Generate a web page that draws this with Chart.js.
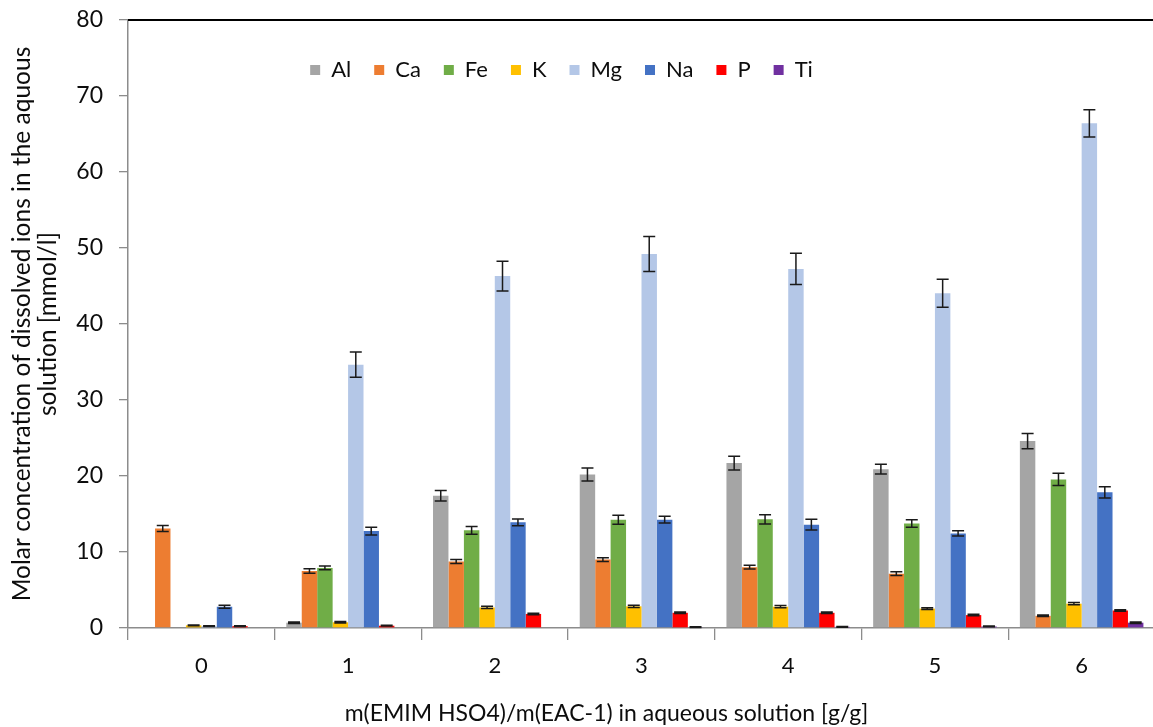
<!DOCTYPE html>
<html>
<head>
<meta charset="utf-8">
<title>Dissolved ions</title>
<script src="https://cdn.jsdelivr.net/npm/chart.js@4.4.1/dist/chart.umd.min.js"></script>
<style>
  html, body { margin: 0; padding: 0; background: #ffffff; overflow: hidden; }
  #wrap { width: 1160px; height: 727px; }
</style>
</head>
<body>
<div id="wrap"><canvas id="c" width="1160" height="727"></canvas></div>
<script>
// Mass ratio categories (x axis)
const ratios = ['0', '1', '2', '3', '4', '5', '6'];
const yTicks = [0, 10, 20, 30, 40, 50, 60, 70, 80];

// Mean molar concentrations [mmol/l] per element
const al = [0, 0.7, 17.4, 20.2, 21.7, 20.9, 24.6];
const ca = [13.1, 7.5, 8.75, 9.0, 8.0, 7.15, 1.6];
const fe = [0, 7.9, 12.85, 14.25, 14.3, 13.75, 19.55];
const k  = [0.35, 0.75, 2.7, 2.85, 2.8, 2.55, 3.2];
const mg = [0.25, 34.65, 46.3, 49.2, 47.25, 44.05, 66.4];
const na = [2.8, 12.75, 13.9, 14.25, 13.6, 12.45, 17.85];
const p  = [0.25, 0.3, 1.85, 2.0, 2.0, 1.7, 2.3];
const ti = [0, 0, 0, 0.1, 0.15, 0.2, 0.7];

// Standard deviations [mmol/l]
const alErr = [0, 0.1, 0.7, 0.85, 0.9, 0.65, 1.0];
const caErr = [0.4, 0.3, 0.25, 0.25, 0.25, 0.25, 0.1];
const feErr = [0, 0.25, 0.5, 0.6, 0.6, 0.5, 0.8];
const kErr  = [0.05, 0.1, 0.15, 0.15, 0.15, 0.1, 0.15];
const mgErr = [0.05, 1.65, 1.95, 2.3, 2.05, 1.85, 1.8];
const naErr = [0.2, 0.5, 0.45, 0.45, 0.7, 0.35, 0.75];
const pErr  = [0.05, 0.05, 0.1, 0.1, 0.1, 0.1, 0.1];
const tiErr = [0, 0, 0, 0.05, 0.05, 0.05, 0.1];

const FONT = 'Lato, "Open Sans", sans-serif';
const TEXT = '#0d0d0d';

function series(label, data, errors, color) {
  return {
    label, data, errors,
    backgroundColor: color,
    borderWidth: 0,
    categoryPercentage: 0.842,
    barPercentage: 1.0
  };
}

// Draws symmetric error bars with caps on every bar
const errorBars = {
  id: 'errorBars',
  afterDatasetsDraw(chart) {
    const ctx = chart.ctx;
    const yScale = chart.scales.y;
    ctx.save();
    ctx.strokeStyle = '#1a1a1a';
    ctx.lineWidth = 1.5;
    chart.data.datasets.forEach((ds, i) => {
      const meta = chart.getDatasetMeta(i);
      meta.data.forEach((bar, j) => {
        const err = ds.errors[j];
        if (!err) return;
        const v = ds.data[j];
        const yT = yScale.getPixelForValue(v + err);
        const yB = yScale.getPixelForValue(Math.max(0, v - err));
        const half = 6;
        ctx.beginPath();
        ctx.moveTo(bar.x, yT); ctx.lineTo(bar.x, yB);
        ctx.moveTo(bar.x - half, yT); ctx.lineTo(bar.x + half, yT);
        ctx.moveTo(bar.x - half, yB); ctx.lineTo(bar.x + half, yB);
        ctx.stroke();
      });
    });
    ctx.restore();
  }
};

// Upper frame line of the plot area
const topFrame = {
  id: 'topFrame',
  afterDraw(chart) {
    const { ctx, chartArea } = chart;
    ctx.save();
    ctx.strokeStyle = '#000000';
    ctx.lineWidth = 2;
    ctx.beginPath();
    ctx.moveTo(chartArea.left, chartArea.top);
    ctx.lineTo(chart.width, chartArea.top);
    ctx.stroke();
    ctx.restore();
  }
};

// Lays the legend out as a single horizontal row inside the plot area
// and centres the x-axis title a little left of the plot centre
const layoutTweaks = {
  id: 'layoutTweaks',
  beforeLayout(chart) {
    if (chart.legend) chart.legend.isHorizontal = () => true;
  },
  afterLayout(chart) {
    const lg = chart.legend;
    const area = chart.chartArea;
    if (lg) {
      lg.left = area.left;
      lg.right = area.right - 160;
      lg.top = area.top + 16;
      lg.bottom = lg.top + lg.height;
    }
    const xs = chart.scales.x;
    if (xs && !xs._titleShifted) {
      const draw = xs.drawTitle;
      xs.drawTitle = function () {
        const r = this.right;
        this.right = r - 70;
        draw.call(this);
        this.right = r;
      };
      xs._titleShifted = true;
    }
  }
};

new Chart(document.getElementById('c'), {
  type: 'bar',
  data: {
    labels: ratios,
    datasets: [
      series('Al', al, alErr, '#A5A5A5'),
      series('Ca', ca, caErr, '#ED7D31'),
      series('Fe', fe, feErr, '#70AD47'),
      series('K',  k,  kErr,  '#FFC000'),
      series('Mg', mg, mgErr, '#B4C7E7'),
      series('Na', na, naErr, '#4472C4'),
      series('P',  p,  pErr,  '#FF0000'),
      series('Ti', ti, tiErr, '#7030A0')
    ]
  },
  options: {
    responsive: false,
    animation: false,
    layout: { padding: { top: 20, right: 5, left: 0, bottom: 0 } },
    plugins: {
      tooltip: { enabled: false },
      legend: {
        position: 'chartArea',
        align: 'center',
        labels: {
          boxWidth: 10,
          boxHeight: 10,
          padding: 23,
          color: TEXT,
          font: { family: FONT, size: 22 }
        }
      }
    },
    scales: {
      x: {
        grid: { offset: true, drawOnChartArea: false, tickLength: 12, color: '#8c8c8c', lineWidth: 1.3 },
        border: { color: '#8c8c8c', width: 1.5 },
        ticks: { color: TEXT, font: { family: FONT, size: 22 }, padding: 13 },
        title: {
          display: true,
          text: 'm(EMIM HSO4)/m(EAC-1) in aqueous solution [g/g]',
          color: TEXT,
          font: { family: FONT, size: 23 },
          padding: { top: 0, bottom: 0 }
        },
        afterFit(scale) {
          scale.height = 99;
          scale.paddingLeft = 0;
          scale.paddingRight = 0;
        }
      },
      y: {
        min: 0,
        max: 80,
        afterBuildTicks(scale) { scale.ticks = yTicks.map(v => ({ value: v })); },
        grid: { drawOnChartArea: false, tickLength: 9, color: '#8c8c8c', lineWidth: 1.3 },
        border: { color: '#8c8c8c', width: 1.5 },
        ticks: { color: TEXT, font: { family: FONT, size: 23 }, padding: 16 },
        title: {
          display: true,
          text: ['Molar concentration of dissolved ions in the aquous', 'solution [mmol/l]'],
          color: TEXT,
          font: { family: FONT, size: 24.5, lineHeight: 1.06 },
          padding: { top: 9, bottom: 0 }
        },
        afterFit(scale) {
          scale.width = 128;
          scale.paddingTop = 0;
          scale.paddingBottom = 0;
        }
      }
    }
  },
  plugins: [errorBars, topFrame, layoutTweaks]
});
</script>
</body>
</html>
